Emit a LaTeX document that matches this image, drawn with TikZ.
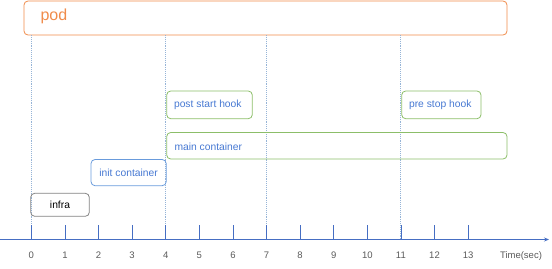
\documentclass[tikz,border=0pt]{standalone}
\usepackage{fontspec}
\setmainfont{Liberation Sans}
\usetikzlibrary{arrows.meta}
\definecolor{podorange}{RGB}{240,140,75}
\definecolor{hookgreen}{RGB}{140,190,105}
\definecolor{initblue}{RGB}{105,155,220}
\definecolor{textblue}{RGB}{70,120,210}
\definecolor{axisblue}{RGB}{70,110,195}
\definecolor{guide}{RGB}{150,180,215}
\definecolor{boxgray}{RGB}{130,130,130}
\definecolor{numgray}{RGB}{90,90,90}
\tikzset{
  phase/.style={draw, rounded corners=4pt, line width=0.8pt, inner sep=0pt},
  guideline/.style={guide, densely dotted, line width=0.9pt},
  ticklab/.style={text=numgray, font=\fontsize{9.5}{11}\selectfont, anchor=base, inner sep=0pt},
  boxtext/.style={font=\fontsize{10.3}{12}\selectfont}
}
\begin{document}
\begin{tikzpicture}[x=1pt,y=-1pt]
\useasboundingbox (0,0) rectangle (552,268);
% pod
\draw[phase, podorange] (24,1) rectangle (507,35);
\node[text=podorange, anchor=west, font=\fontsize{16}{18}\selectfont] (podlbl) at (37,16) {pod};
% guide lines
\foreach \t in {0,4,7,11}{
  \coordinate (gtop\t) at ({31.3+33.6*\t},35);
  \coordinate (gbot\t) at ({31.3+33.6*\t},239.5);
  \draw[guideline] (gtop\t) -- (gbot\t);
}
% boxes
\draw[phase, hookgreen] (166.7,91) rectangle (252.3,118.7);
\node[boxtext, text=textblue, anchor=west] (psh) at (170.5,105) {post start hook};
\draw[phase, hookgreen] (401.7,91) rectangle (481,118.7);
\node[boxtext, text=textblue, anchor=west] (prs) at (405.5,105) {pre stop hook};
\draw[phase, hookgreen] (166.7,132.5) rectangle (507,159);
\node[boxtext, text=textblue, anchor=west] (mc) at (171,146.5) {main container};
\draw[phase, initblue] (91,159.5) rectangle (166.2,185.7);
\node[boxtext, text=textblue] (ic) at (128.6,172.6) {init container};
\draw[phase, boxgray] (30.7,193.3) rectangle (89.3,216.3);
\node[boxtext, text=black] (inf) at (60,205) {infra};
% axis
\coordinate (astart) at (0,239.5);
\coordinate (aend) at (549,239.5);
\draw[axisblue, line width=1pt, -{Stealth[length=5pt,width=4pt]}] (astart) -- (aend);
\foreach \t in {0,...,13}{
  \coordinate (tk\t) at ({31.3+33.6*\t},239.5);
  \draw[axisblue, line width=0.8pt] (tk\t) -- ++(0,-15);
  \node[ticklab] (lab\t) at ({31.3+33.6*\t},258.2) {\t};
}
\node[ticklab] (timelbl) at (521,258.2) {Time(sec)};
\end{tikzpicture}
\end{document}
